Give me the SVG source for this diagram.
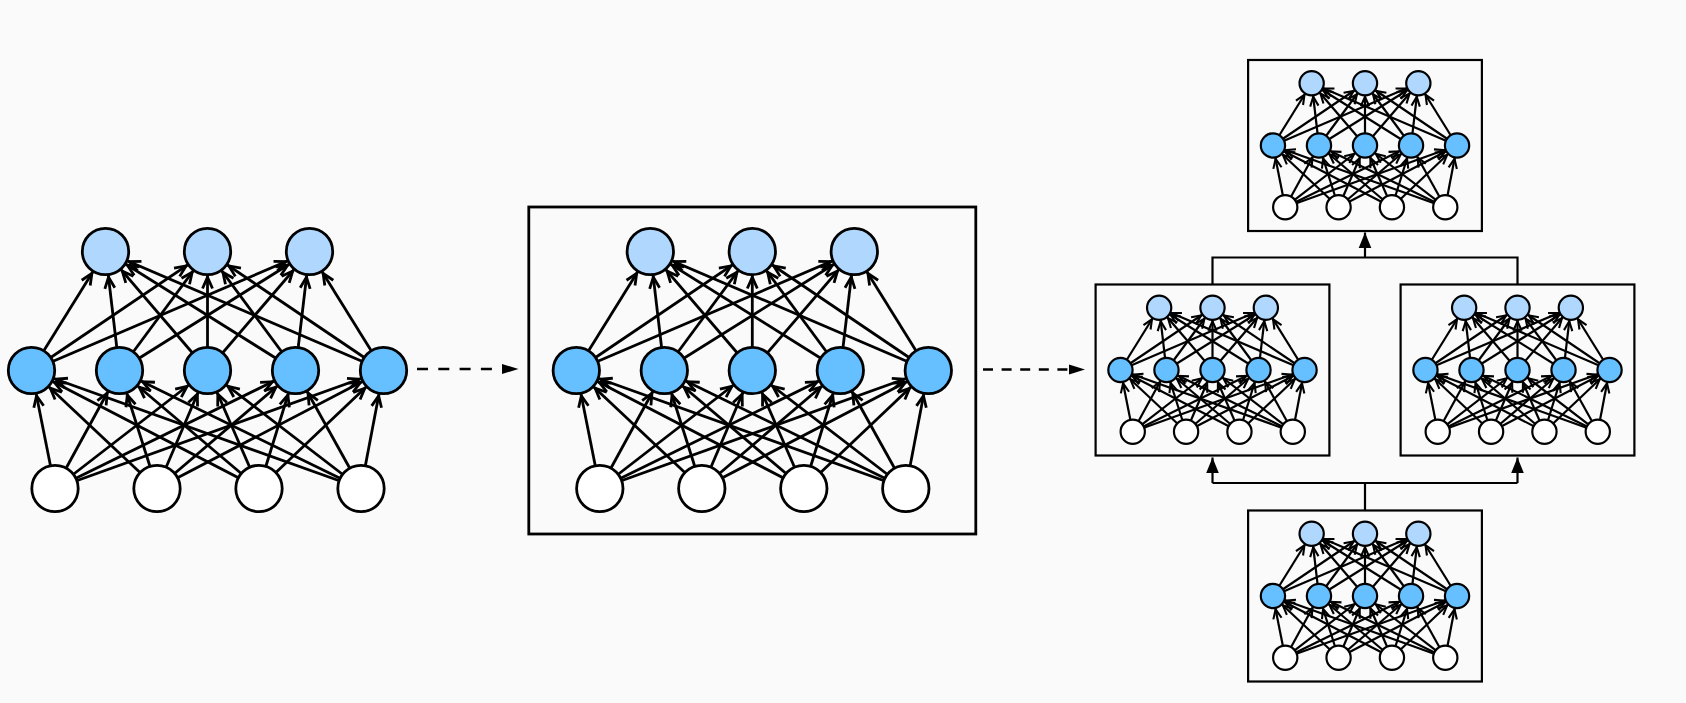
<svg xmlns="http://www.w3.org/2000/svg" xmlns:xlink="http://www.w3.org/1999/xlink" width="1686" height="703" viewBox="0 0 1686 703">
<style>
.bg{fill:#fafafa}
.t{fill:#b0d8ff}
.m{fill:#66bfff}
.b{fill:#ffffff}
.big{stroke-width:2.8;marker-end:url(#ahBig)}
.small{stroke-width:4.2;marker-end:url(#ahSmall)}
.conn{fill:none;stroke:#000;stroke-width:2.2}
.dash1{fill:none;stroke:#000;stroke-width:2.6;stroke-dasharray:11 10.3}
.dash2{fill:none;stroke:#000;stroke-width:2.6;stroke-dasharray:10 8.6}
</style>
<defs>
<marker id="ahBig" markerUnits="userSpaceOnUse" orient="auto" markerWidth="1" markerHeight="1" refX="0" refY="0" style="overflow:visible">
<path d="M-37,-5 L-25.8,0 L-37,5" fill="none" stroke="#000" stroke-width="2.8"/>
</marker>
<marker id="ahSmall" markerUnits="userSpaceOnUse" orient="auto" markerWidth="1" markerHeight="1" refX="0" refY="0" style="overflow:visible">
<path d="M-44,-8 L-26,0 L-44,8" fill="none" stroke="#000" stroke-width="4"/>
</marker>
<marker id="tri" markerUnits="userSpaceOnUse" orient="auto" markerWidth="1" markerHeight="1" refX="0" refY="0" style="overflow:visible">
<path d="M0,0 L-15.5,-6.3 L-15.5,6.3 Z" fill="#000"/>
</marker>
<g id="net" stroke="#000">
<line x1="-152.5" y1="118" x2="-176" y2="0"/>
<line x1="-152.5" y1="118" x2="-88" y2="0"/>
<line x1="-152.5" y1="118" x2="0" y2="0"/>
<line x1="-152.5" y1="118" x2="88" y2="0"/>
<line x1="-152.5" y1="118" x2="176" y2="0"/>
<line x1="-50.5" y1="118" x2="-176" y2="0"/>
<line x1="-50.5" y1="118" x2="-88" y2="0"/>
<line x1="-50.5" y1="118" x2="0" y2="0"/>
<line x1="-50.5" y1="118" x2="88" y2="0"/>
<line x1="-50.5" y1="118" x2="176" y2="0"/>
<line x1="51.5" y1="118" x2="-176" y2="0"/>
<line x1="51.5" y1="118" x2="-88" y2="0"/>
<line x1="51.5" y1="118" x2="0" y2="0"/>
<line x1="51.5" y1="118" x2="88" y2="0"/>
<line x1="51.5" y1="118" x2="176" y2="0"/>
<line x1="153.5" y1="118" x2="-176" y2="0"/>
<line x1="153.5" y1="118" x2="-88" y2="0"/>
<line x1="153.5" y1="118" x2="0" y2="0"/>
<line x1="153.5" y1="118" x2="88" y2="0"/>
<line x1="153.5" y1="118" x2="176" y2="0"/>
<line x1="-176" y1="0" x2="-102" y2="-119"/>
<line x1="-176" y1="0" x2="0" y2="-119"/>
<line x1="-176" y1="0" x2="102" y2="-119"/>
<line x1="-88" y1="0" x2="-102" y2="-119"/>
<line x1="-88" y1="0" x2="0" y2="-119"/>
<line x1="-88" y1="0" x2="102" y2="-119"/>
<line x1="0" y1="0" x2="-102" y2="-119"/>
<line x1="0" y1="0" x2="0" y2="-119"/>
<line x1="0" y1="0" x2="102" y2="-119"/>
<line x1="88" y1="0" x2="-102" y2="-119"/>
<line x1="88" y1="0" x2="0" y2="-119"/>
<line x1="88" y1="0" x2="102" y2="-119"/>
<line x1="176" y1="0" x2="-102" y2="-119"/>
<line x1="176" y1="0" x2="0" y2="-119"/>
<line x1="176" y1="0" x2="102" y2="-119"/>
<circle class="t" cx="-102" cy="-119" r="23.2"/>
<circle class="t" cx="0" cy="-119" r="23.2"/>
<circle class="t" cx="102" cy="-119" r="23.2"/>
<circle class="m" cx="-176" cy="0" r="23.2"/>
<circle class="m" cx="-88" cy="0" r="23.2"/>
<circle class="m" cx="0" cy="0" r="23.2"/>
<circle class="m" cx="88" cy="0" r="23.2"/>
<circle class="m" cx="176" cy="0" r="23.2"/>
<circle class="b" cx="-152.5" cy="118" r="23.2"/>
<circle class="b" cx="-50.5" cy="118" r="23.2"/>
<circle class="b" cx="51.5" cy="118" r="23.2"/>
<circle class="b" cx="153.5" cy="118" r="23.2"/>
</g>
<g id="boxnet">
<rect x="-223.5" y="-163.5" width="447" height="327" fill="none" stroke="#000"/>
<use xlink:href="#net" href="#net"/>
</g>
</defs>
<rect class="bg" x="0" y="0" width="1686" height="703"/>
<g id="connectors">
<line class="dash1" x1="417" y1="369" x2="503" y2="369"/>
<path d="M502,364 L518.5,369 L502,374 Z" fill="#000"/>
<line class="dash2" x1="983" y1="369.5" x2="1070" y2="369.5"/>
<path d="M1069,364.5 L1085,369.5 L1069,374.5 Z" fill="#000"/>
<path class="conn" d="M1365,510.5 V483 M1212.5,483 H1517.5"/>
<path class="conn" d="M1212.5,483 V457.5" marker-end="url(#tri)"/>
<path class="conn" d="M1517.5,483 V457.5" marker-end="url(#tri)"/>
<path class="conn" d="M1212.5,284.5 V257.5 H1517.5 V284.5"/>
<path class="conn" d="M1365,257.5 V232.5" marker-end="url(#tri)"/>
</g>
<g id="net-single">
<use xlink:href="#net" href="#net" class="big" transform="translate(207.5,370.5)"/>
</g>
<g id="net-boxed">
<use xlink:href="#boxnet" href="#boxnet" class="big" transform="translate(752.3,370.5)"/>
</g>
<g id="net-top">
<use xlink:href="#boxnet" href="#boxnet" class="small" transform="translate(1365,145.5) scale(0.523)"/>
</g>
<g id="net-left">
<use xlink:href="#boxnet" href="#boxnet" class="small" transform="translate(1212.5,370) scale(0.523)"/>
</g>
<g id="net-right">
<use xlink:href="#boxnet" href="#boxnet" class="small" transform="translate(1517.5,370) scale(0.523)"/>
</g>
<g id="net-bottom">
<use xlink:href="#boxnet" href="#boxnet" class="small" transform="translate(1365,596) scale(0.523)"/>
</g>
</svg>
